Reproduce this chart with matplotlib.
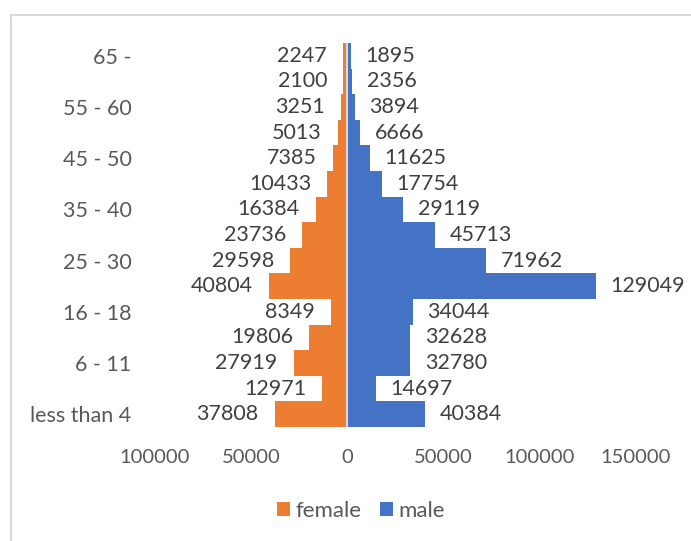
import matplotlib
matplotlib.use("Agg")
import matplotlib.pyplot as plt
from matplotlib.lines import Line2D
import numpy as np

categories = ["less than 4", "4 - 6", "6 - 11", "11 - 16", "16 - 18", "18 - 25",
              "25 - 30", "30 - 35", "35 - 40", "40 - 45", "45 - 50", "50 - 55",
              "55 - 60", "60 - 65", "65 -"]
female = [37808, 12971, 27919, 19806, 8349, 40804, 29598, 23736, 16384,
          10433, 7385, 5013, 3251, 2100, 2247]
male = [40384, 14697, 32780, 32628, 34044, 129049, 71962, 45713, 29119,
        17754, 11625, 6666, 3894, 2356, 1895]
x_ticks = [-100000, -50000, 0, 50000, 100000, 150000]
x_tick_labels = ["100000", "50000", "0", "50000", "100000", "150000"]

ORANGE = "#ED7D31"
BLUE = "#4472C4"
LABEL = "#404040"
AXIS_TXT = "#595959"
GRID = "#D9D9D9"
FONT = "Lato"

W, H = 691, 541
fig = plt.figure(figsize=(W / 100, H / 100), dpi=100)
ax = fig.add_axes([155 / W, (H - 427) / H, (636 - 155) / W, (427 - 43) / H])

y = np.arange(len(categories))
ax.barh(y, [-v for v in female], height=1.0, color=ORANGE, label="female")
ax.barh(y, male, height=1.0, color=BLUE, label="male")

ax.axvline(0, color=GRID, lw=1.5, zorder=3)

for yi, v in zip(y, female):
    ax.annotate(str(v), xy=(-v, yi), xytext=(-11.5, 0), textcoords="offset points",
                ha="right", va="center", fontsize=15.5, color=LABEL, family=FONT)
for yi, v in zip(y, male):
    ax.annotate(str(v), xy=(v, yi), xytext=(10.5, 0), textcoords="offset points",
                ha="left", va="center", fontsize=15.5, color=LABEL, family=FONT)

ax.set_xlim(-100000, 150000)
ax.set_ylim(-0.5, len(categories) - 0.5)
ax.set_xticks(x_ticks)
ax.set_xticklabels(x_tick_labels, family=FONT, fontsize=14.5, color=AXIS_TXT)
ax.set_yticks(y[::2])
ax.set_yticklabels(categories[::2], family=FONT, fontsize=15.5, color=AXIS_TXT)
ax.tick_params(axis="x", length=0, pad=16)
ax.tick_params(axis="y", length=0, pad=17)
for s in ax.spines.values():
    s.set_visible(False)

leg = fig.legend(loc="center", bbox_to_anchor=(361 / W, (H - 511) / H), ncol=2,
                 frameon=False, prop={"family": FONT, "size": 16},
                 handlelength=0.585, handleheight=0.585, handletextpad=0.25,
                 columnspacing=0.86)
for t in leg.get_texts():
    t.set_color(AXIS_TXT)

# outer chart border (partially visible)
fig.add_artist(Line2D([11 / W, 11 / W], [0, (H - 15) / H], color=GRID, lw=1.5,
                      transform=fig.transFigure))
fig.add_artist(Line2D([11 / W, 1], [(H - 15) / H, (H - 15) / H], color=GRID, lw=1.5,
                      transform=fig.transFigure))

fig.savefig("out.png", dpi=100)
